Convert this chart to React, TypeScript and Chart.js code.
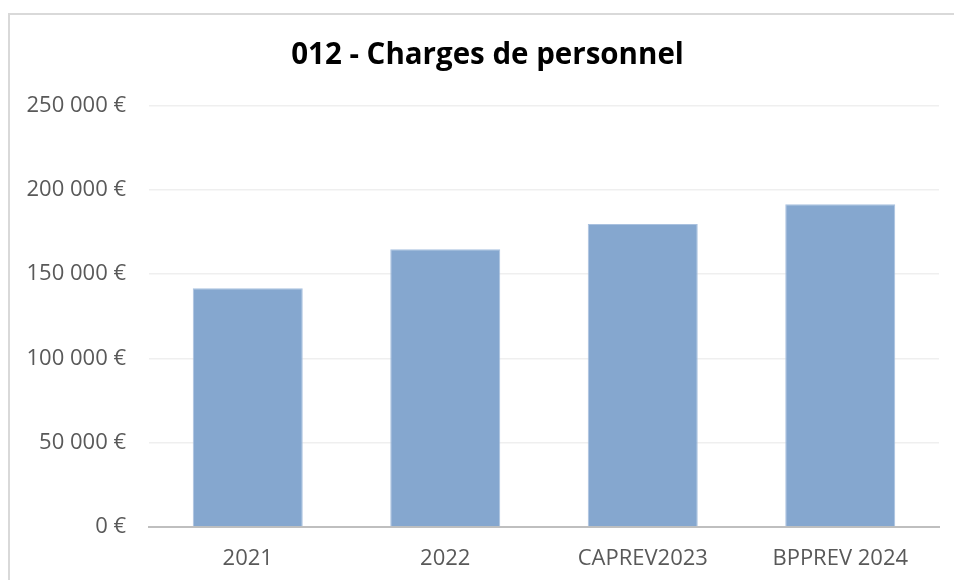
import React, { useEffect, useRef } from "react";
import { Chart, registerables } from "chart.js";

Chart.register(...registerables);

const title = "012 - Charges de personnel";
const categories = ["2021", "2022", "CAPREV2023", "BPPREV 2024"];
const values = [141500, 164700, 179700, 191400];
const yMin = 0;
const yMax = 250000;
const yStep = 50000;

const fmtEuro = (v: number) =>
  String(v).replace(/\B(?=(\d{3})+(?!\d))/g, " ") + " €";

const titlePlugin = {
  id: "centeredTitle",
  afterDraw(chart: any) {
    const ctx = chart.ctx;
    ctx.save();
    ctx.font = "bold 29.5px 'Open Sans'";
    ctx.fillStyle = "#000000";
    ctx.textAlign = "center";
    ctx.textBaseline = "alphabetic";
    ctx.fillText(title, 477.5, 49);
    ctx.restore();
  },
};

export default function App() {
  const ref = useRef<HTMLCanvasElement | null>(null);

  useEffect(() => {
    if (!ref.current) return;
    const chart = new Chart(ref.current, {
      type: "bar",
      data: {
        labels: categories,
        datasets: [
          {
            data: values,
            backgroundColor: "#85A7CF",
            borderColor: "#A9C1DF",
            borderWidth: 1,
            barPercentage: 0.557,
            categoryPercentage: 1,
          },
        ],
      },
      plugins: [titlePlugin],
      options: {
        animation: false,
        responsive: false,
        maintainAspectRatio: false,
        layout: { padding: { left: 0, right: 26, top: 90.4, bottom: 0 } },
        plugins: {
          legend: { display: false },
          tooltip: { enabled: false },
          title: { display: false },
        },
        scales: {
          x: {
            grid: { display: false, drawTicks: false },
            border: { display: true, color: "#BFBFBF", width: 2 },
            ticks: {
              color: "#595959",
              font: { family: "'Open Sans'", size: 22 },
              padding: 19,
              maxRotation: 0,
            },
            afterFit: (s: any) => {
              s.height = 53;
            },
          },
          y: {
            min: yMin,
            max: yMax,
            grid: { color: "#EFEFEF", lineWidth: 1.5, drawTicks: false },
            border: { display: false },
            ticks: {
              stepSize: yStep,
              color: "#595959",
              font: { family: "'Open Sans'", size: 22 },
              padding: 23,
              callback: (v: any) => fmtEuro(Number(v)),
            },
            afterFit: (s: any) => {
              s.width = 139;
            },
          },
        },
      },
    });
    return () => chart.destroy();
  }, []);

  return (
    <div
      style={{
        position: "fixed",
        left: 0,
        top: 0,
        width: 954,
        height: 580,
        overflow: "hidden",
        background: "#ffffff",
      }}
    >
      <div
        style={{
          position: "absolute",
          left: 8,
          top: 13,
          width: 980,
          height: 620,
          borderLeft: "2px solid #D9D9D9",
          borderTop: "2px solid #D9D9D9",
          boxSizing: "border-box",
        }}
      />
      <canvas
        ref={ref}
        width={955}
        height={565}
        style={{ position: "absolute", left: 10, top: 15, width: 955, height: 565 }}
      />
    </div>
  );
}
